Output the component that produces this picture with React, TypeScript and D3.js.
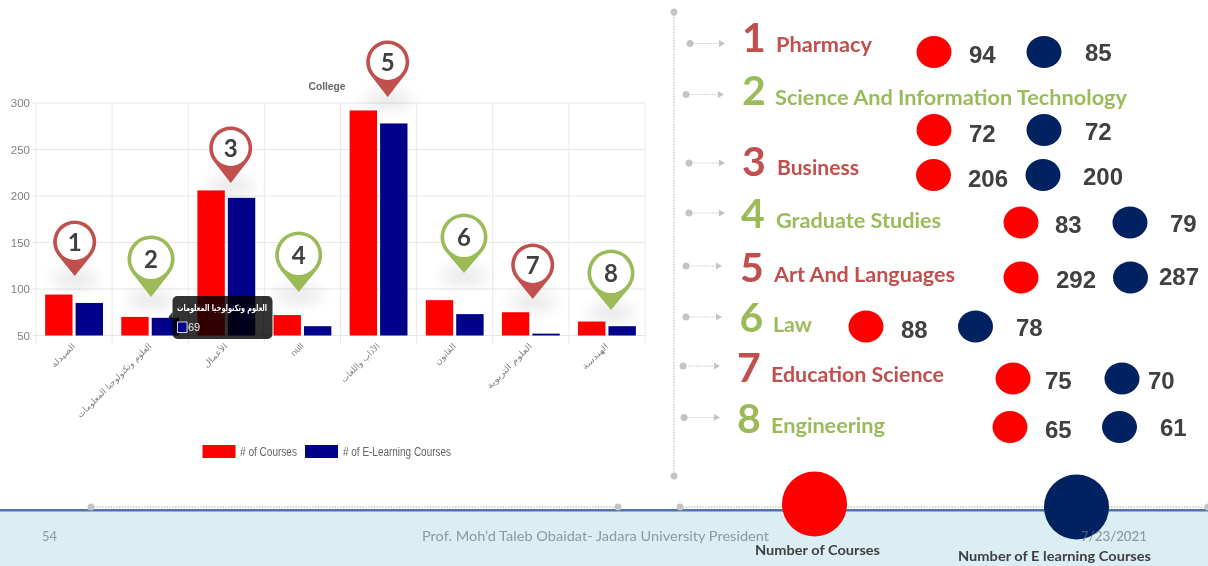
import React from "react";
import * as d3 from "d3";

// ---------- chart data ----------
const categories = ["الصيدلة", "العلوم وتكنولوجيا المعلومات", "الأعمال", "null", "الآداب واللغات", "القانون", "العلوم التربوية", "الهندسة"];
const courses = [94, 70, 206, 72, 292, 88, 75, 65];
const eLearning = [85, 69, 198, 60, 278, 73, 52, 60];
const yTicks = [50, 100, 150, 200, 250, 300];
const labelLengths = [30, 101, 30, 14, 51, 26, 60, 33];

// ---------- right-hand list data ----------
const collegeNames = ["Pharmacy", "Science And Information Technology", "Business", "Graduate Studies", "Art And Languages", "Law", "Education Science", "Engineering"];
const listCourses = [94, 72, 206, 83, 292, 88, 75, 65];
const listELearning = [85, 72, 200, 79, 287, 78, 70, 61];

// ---------- layout (annotation placement, not data) ----------
const pinLayout = [
  { x: 74.7, y: 242, r: 21.5, tip: 276 },
  { x: 151, y: 259, r: 23.5, tip: 297 },
  { x: 230.7, y: 148, r: 21.5, tip: 183 },
  { x: 298.7, y: 255, r: 23.5, tip: 292 },
  { x: 387.7, y: 62, r: 21.5, tip: 97 },
  { x: 464, y: 237, r: 23.5, tip: 273 },
  { x: 532.7, y: 265, r: 21.5, tip: 299 },
  { x: 611, y: 273, r: 23.5, tip: 310 },
];
const rowLayout = [
  { ay: 43.5, a0: 690, a1: 725, nx: 742, ny: 52, tx: 776, ty: 52, tw: 96, dy: 52, d0: 934, d1: 1044, v0x: 969, v0y: 62.5, v1x: 1085, v1y: 60.5 },
  { ay: 94.5, a0: 686, a1: 724, nx: 742, ny: 105, tx: 775, ty: 105, tw: 352, dy: 130, d0: 934, d1: 1044, v0x: 969, v0y: 141.5, v1x: 1085, v1y: 140 },
  { ay: 163, a0: 689, a1: 725, nx: 742, ny: 175.5, tx: 777, ty: 175, tw: 82, dy: 175, d0: 933.5, d1: 1043, v0x: 968, v0y: 186.5, v1x: 1083, v1y: 185 },
  { ay: 213, a0: 689, a1: 725, nx: 741, ny: 227.5, tx: 776, ty: 228, tw: 165, dy: 222.5, d0: 1021, d1: 1130, v0x: 1055, v0y: 232.5, v1x: 1170, v1y: 231.5 },
  { ay: 266, a0: 686, a1: 722, nx: 740, ny: 281.5, tx: 774, ty: 282, tw: 181, dy: 277.5, d0: 1021, d1: 1130.5, v0x: 1056, v0y: 288, v1x: 1159, v1y: 285 },
  { ay: 317, a0: 686, a1: 722, nx: 739.5, ny: 331.5, tx: 773, ty: 332, tw: 39, dy: 326.5, d0: 866, d1: 975.5, v0x: 901, v0y: 337.5, v1x: 1016, v1y: 336 },
  { ay: 366, a0: 683, a1: 720, nx: 737, ny: 381.5, tx: 771, ty: 381.5, tw: 173, dy: 378.5, d0: 1013, d1: 1122, v0x: 1045, v0y: 389, v1x: 1148, v1y: 388.5 },
  { ay: 417.5, a0: 684, a1: 720, nx: 737, ny: 432.5, tx: 771, ty: 433, tw: 114, dy: 427, d0: 1010, d1: 1119.5, v0x: 1045, v0y: 438, v1x: 1160, v1y: 436 },
];

const RED = "#ff0000";
const BAR_BLUE = "#00008b";
const NAVY = "#002060";
const PIN_RED = "#c0504d";
const PIN_GREEN = "#9bbb59";
const GREY = "#c4c4c4";
const SANS = "'Liberation Sans', Arial, sans-serif";
const ARABIC = "'DejaVu Sans', 'Liberation Sans', sans-serif";
const CAL = "Lato, 'Open Sans', sans-serif";

const plot = { left: 36, right: 645, top: 103, bottom: 335.5 };
const x = d3.scaleBand<number>().domain(d3.range(categories.length)).range([plot.left, plot.right]);
const y = d3.scaleLinear().domain([50, 300]).range([plot.bottom, plot.top]);
const sub = d3.scaleBand<number>().domain([0, 1]).range([0, x.bandwidth()]).paddingInner(0.1).paddingOuter(0.3);

function pinPath(cx: number, cy: number, r: number, tip: number) {
  const d = tip - cy;
  const a = Math.acos(r / d);
  const dx = r * Math.sin(a);
  const dy = r * Math.cos(a);
  return `M${cx},${tip}L${cx - dx},${cy + dy}A${r},${r} 0 1 1 ${cx + dx},${cy + dy}Z`;
}

function Connector({ x0, y0, x1, y1 }: { x0: number; y0: number; x1: number; y1: number }) {
  return (
    <g>
      <line x1={x0} y1={y0} x2={x1} y2={y1} stroke={GREY} strokeWidth={1.4} strokeDasharray="1.4 1.4" />
      <circle cx={x0} cy={y0} r={3.5} fill={GREY} />
      <circle cx={x1} cy={y1} r={3.5} fill={GREY} />
    </g>
  );
}

export default function App() {
  return (
    <svg width={1208} height={566} viewBox="0 0 1208 566" style={{ position: "absolute", left: 0, top: 0, background: "#fff" }}>
      <defs>
        <filter id="soft" x="-2%" y="-2%" width="104%" height="104%">
          <feGaussianBlur stdDeviation={0.5} />
        </filter>
        <filter id="shadow" x="-80%" y="-160%" width="260%" height="420%">
          <feGaussianBlur stdDeviation={8} />
        </filter>
      </defs>
      <g filter="url(#soft)">
        {/* footer band */}
        <rect x={0} y={510} width={1208} height={56} fill="#daeef3" />
        <rect x={0} y={509} width={1208} height={2.5} fill="#4f76a8" />
        <Connector x0={91} y0={507} x1={618} y1={507} />
        <Connector x0={680} y0={507} x1={1208} y1={507} />
        <Connector x0={674} y0={12} x1={674} y1={476} />

        <text x={42} y={541} fontFamily={CAL} fontSize={13} fill="#8c9a9e">54</text>
        <text x={422} y={541} fontFamily={CAL} fontSize={13} fill="#8c9a9e" textLength={347} lengthAdjust="spacingAndGlyphs">Prof. Moh’d Taleb Obaidat- Jadara University President</text>
        <text x={1081} y={541} fontFamily={CAL} fontSize={13} fill="#8c9a9e" textLength={66} lengthAdjust="spacingAndGlyphs">7/23/2021</text>

        {/* grid */}
        {yTicks.map((t) => (
          <g key={t}>
            <line x1={plot.left - 4} x2={plot.right} y1={y(t)} y2={y(t)} stroke="#e6e6e6" strokeWidth={1} />
            <text x={30} y={y(t) + 4} textAnchor="end" fontFamily={SANS} fontSize={11.5} fill="#808080">{t}</text>
          </g>
        ))}
        {d3.range(categories.length + 1).map((i) => {
          const gx = plot.left + i * x.step();
          return <line key={i} x1={gx} x2={gx} y1={plot.top} y2={plot.bottom + 9} stroke="#e9e9e9" strokeWidth={1} />;
        })}

        {/* bars */}
        {categories.map((c, i) => (
          <g key={c}>
            <rect x={x(i)! + sub(0)!} width={sub.bandwidth()} y={y(courses[i])} height={plot.bottom - y(courses[i])} fill={RED} />
            <rect x={x(i)! + sub(1)!} width={sub.bandwidth()} y={y(eLearning[i])} height={plot.bottom - y(eLearning[i])} fill={BAR_BLUE} />
          </g>
        ))}

        {/* x labels */}
        {categories.map((c, i) => {
          const cx = x(i)! + x.bandwidth() / 2;
          return (
            <text
              key={c}
              transform={`translate(${cx},${345}) rotate(-45)`}
              textAnchor="end"
              dominantBaseline="middle"
              fontFamily={c === "null" ? SANS : ARABIC}
              fontSize={8.5}
              fill="#808080"
              textLength={labelLengths[i]}
              lengthAdjust="spacingAndGlyphs"
            >
              {c}
            </text>
          );
        })}

        <text x={327} y={89.5} textAnchor="middle" fontFamily={SANS} fontWeight={700} fontSize={10.5} fill="#666" textLength={37} lengthAdjust="spacingAndGlyphs">College</text>

        {/* legend */}
        <rect x={202.5} y={445} width={33} height={13} fill={RED} />
        <text x={240} y={456} fontFamily={SANS} fontSize={12} fill="#666" textLength={57} lengthAdjust="spacingAndGlyphs"># of Courses</text>
        <rect x={305} y={445} width={33} height={13} fill={BAR_BLUE} />
        <text x={343} y={456} fontFamily={SANS} fontSize={12} fill="#666" textLength={108} lengthAdjust="spacingAndGlyphs"># of E-Learning Courses</text>

        {/* pins */}
        {pinLayout.map((p, i) => {
          const colour = i % 2 === 0 ? PIN_RED : PIN_GREEN;
          return (
            <g key={i}>
              <ellipse cx={p.x} cy={p.tip + 3} rx={24} ry={8} fill="#000" opacity={0.1} filter="url(#shadow)" />
              <path d={pinPath(p.x, p.y, p.r, p.tip)} fill={colour} />
              <circle cx={p.x} cy={p.y} r={p.r - 3.6} fill="#fff" />
              <text x={p.x} y={p.y + 8.5} textAnchor="middle" fontFamily={CAL} fontWeight={700} fontSize={24} fill="#404040">{i + 1}</text>
            </g>
          );
        })}

        {/* tooltip */}
        <g>
          <path d="M172.5,312 L168.5,317 L172.5,322Z" fill="#000" opacity={0.8} />
          <rect x={172.5} y={296} width={100} height={43} rx={5} fill="#000" opacity={0.8} />
          <text x={222} y={311} textAnchor="middle" fontFamily={ARABIC} fontWeight={700} fontSize={9} fill="#fff" textLength={90} lengthAdjust="spacingAndGlyphs">{categories[1]}</text>
          <rect x={177.5} y={322} width={9.5} height={10.5} fill={BAR_BLUE} stroke="#fff" strokeWidth={0.8} />
          <text x={188} y={331} fontFamily={SANS} fontSize={11} fill="#eee">{eLearning[1]}</text>
        </g>

        {/* right-hand list */}
        {collegeNames.map((name, i) => {
          const r = rowLayout[i];
          const colour = i % 2 === 0 ? PIN_RED : PIN_GREEN;
          return (
            <g key={name}>
              <line x1={r.a0} x2={r.a1 - 5} y1={r.ay} y2={r.ay} stroke={GREY} strokeWidth={1.2} strokeDasharray="1.3 1.3" />
              <circle cx={r.a0} cy={r.ay} r={3.5} fill={GREY} />
              <path d={`M${r.a1},${r.ay}l-6,-3.5v7Z`} fill={GREY} />
              <text x={r.nx} y={r.ny} fontFamily={CAL} fontWeight={700} fontSize={41} fill={colour}>{i + 1}</text>
              <text x={r.tx} y={r.ty} fontFamily={CAL} fontWeight={700} fontSize={21} fill={colour} textLength={r.tw} lengthAdjust="spacingAndGlyphs">{name}</text>
              <ellipse cx={r.d0} cy={r.dy} rx={17.5} ry={16} fill={RED} />
              <ellipse cx={r.d1} cy={r.dy} rx={17.5} ry={16} fill={NAVY} />
              <text x={r.v0x} y={r.v0y} fontFamily={SANS} fontWeight={700} fontSize={24} fill="#404040">{listCourses[i]}</text>
              <text x={r.v1x} y={r.v1y} fontFamily={SANS} fontWeight={700} fontSize={24} fill="#404040">{listELearning[i]}</text>
            </g>
          );
        })}

        {/* size legend */}
        <circle cx={814.5} cy={504} r={32.5} fill={RED} />
        <circle cx={1076.5} cy={507} r={32.5} fill={NAVY} />
        <text x={1081} y={541} fontFamily={CAL} fontSize={13} fill="#8c9a9e" opacity={0.5} textLength={66} lengthAdjust="spacingAndGlyphs">7/23/2021</text>
        <text x={755} y={555} fontFamily={CAL} fontWeight={700} fontSize={13} fill="#404040" textLength={125} lengthAdjust="spacingAndGlyphs">Number of Courses</text>
        <text x={958} y={561} fontFamily={CAL} fontWeight={700} fontSize={13} fill="#404040" textLength={193} lengthAdjust="spacingAndGlyphs">Number of E learning Courses</text>
      </g>
    </svg>
  );
}
